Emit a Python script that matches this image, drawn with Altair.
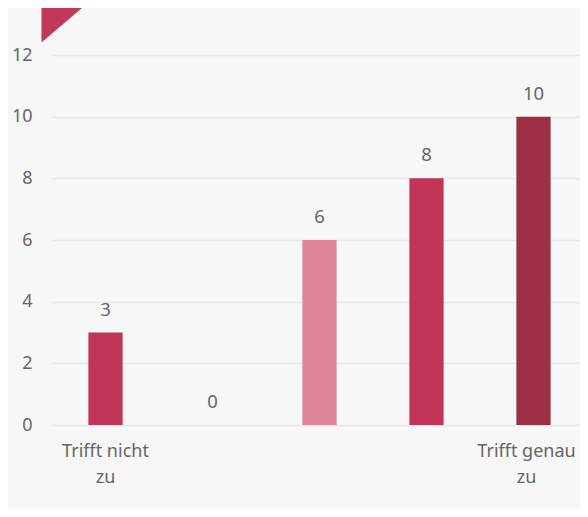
import altair as alt
import pandas as pd

positions = [1, 2, 3, 4, 5]
values = [3, 0, 6, 8, 10]
colors = ["#c0355a", "#c0355a", "#de8499", "#c23558", "#9c2f43"]
label_lines = [["Trifft nicht", "zu"], [], [], [], ["Trifft genau", "zu"]]
y_ticks = [0, 2, 4, 6, 8, 10, 12]

df = pd.DataFrame({"pos": positions, "value": values, "color": colors})

parts = []
for p, lines in zip(positions, label_lines):
    arr = "[" + ",".join("'" + s + "'" for s in lines) + "]" if lines else "''"
    parts.append(f"datum.value == {p} ? {arr} : ")
label_expr = "".join(parts) + "''"

FONT = "Noto Sans"
TXT = "#666666"

x = alt.X(
    "pos:O",
    scale=alt.Scale(paddingInner=0.68, paddingOuter=0.34, range=[0, 535]),
    axis=alt.Axis(
        title=None, labelAngle=0, labelExpr=label_expr, domain=False, ticks=False,
        labelFont=FONT, labelFontSize=18, labelColor=TXT, labelPadding=17,
        labelLineHeight=26, labelBaseline="top",
        labelOffset={"condition": {"test": f"datum.value == {positions[-1]}", "value": -7}, "value": 0},
    ),
)
y = alt.Y(
    "value:Q",
    scale=alt.Scale(domain=[0, 12]),
    axis=alt.Axis(
        title=None, values=y_ticks, domain=False, ticks=False,
        labelFont=FONT, labelFontSize=18, labelColor=TXT, labelPadding=20,
        gridColor="#e8e8e8", gridWidth=1.5,
    ),
)

base = alt.Chart(df)
bars = base.mark_bar().encode(x=x, y=y, color=alt.Color("color:N", scale=None))
texts = base.mark_text(dy=-23, font=FONT, fontSize=18.5, color=TXT, baseline="middle").encode(
    x="pos:O", y="value:Q", text="value:Q"
)
tri = alt.Chart(pd.DataFrame({"k": [0]})).mark_point(
    shape="M-1,-0.85 L1,-0.85 L-1,0.85 Z", filled=True, color="#c0395a", opacity=1, size=1680
).encode(x=alt.value(10), y=alt.value(-30))

chart = (
    alt.layer(bars, texts, tri)
    .properties(
        width=528, height=370,
        autosize=alt.AutoSizeParams(type="none"),
        padding={"left": 44, "top": 47, "right": 0, "bottom": 84},
        background="#f7f7f7",
    )
    .configure_view(stroke=None)
)
chart.save("out.html", embed_options={"renderer": "svg", "actions": False})
